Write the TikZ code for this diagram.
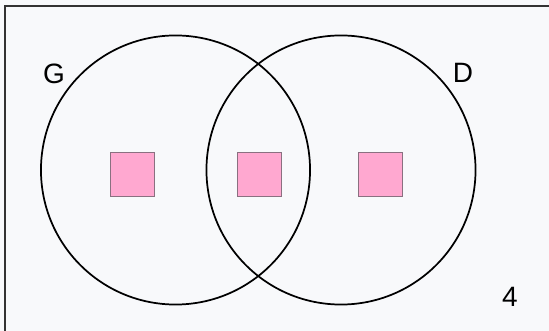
\documentclass[tikz,border=0pt]{standalone}
\usepackage{fontspec}
\setmainfont{Liberation Sans}
\definecolor{bgpaper}{HTML}{F8F9FB}
\definecolor{sqpink}{HTML}{FFA8D0}
\definecolor{sqedge}{HTML}{8A7080}
\tikzset{
  sq/.style={draw=sqedge,fill=sqpink,line width=0.6pt,minimum size=33pt,inner sep=0pt},
  lbl/.style={font=\fontsize{21pt}{24pt}\selectfont,inner sep=0pt}
}
\begin{document}
\begin{tikzpicture}[x=0.75pt,y=-0.75pt,line width=1.3pt]
  \useasboundingbox (0,0) rectangle (549,331);
  % Hintergrund und Rahmen
  \fill[bgpaper] (0,0) rectangle (549,331);
  \draw[black!80,line width=1.6pt] (5,340) -- (5,6) -- (560,6);

  % Kreise
  \coordinate (cG) at (175.5,170);
  \coordinate (cD) at (341,170);
  \draw (cG) circle [radius=100.9pt];
  \draw (cD) circle [radius=100.9pt];

  % Quadrate
  \node[sq] (sqL) at (132,174.5) {};
  \node[sq] (sqM) at (259,174.5) {};
  \node[sq] (sqR) at (380,174.5) {};

  \node[lbl] (G) at (54,74) {G};
  \node[lbl] (D) at (463,73) {D};
  \node[lbl] (four) at (510,297) {4};
\end{tikzpicture}
\end{document}
